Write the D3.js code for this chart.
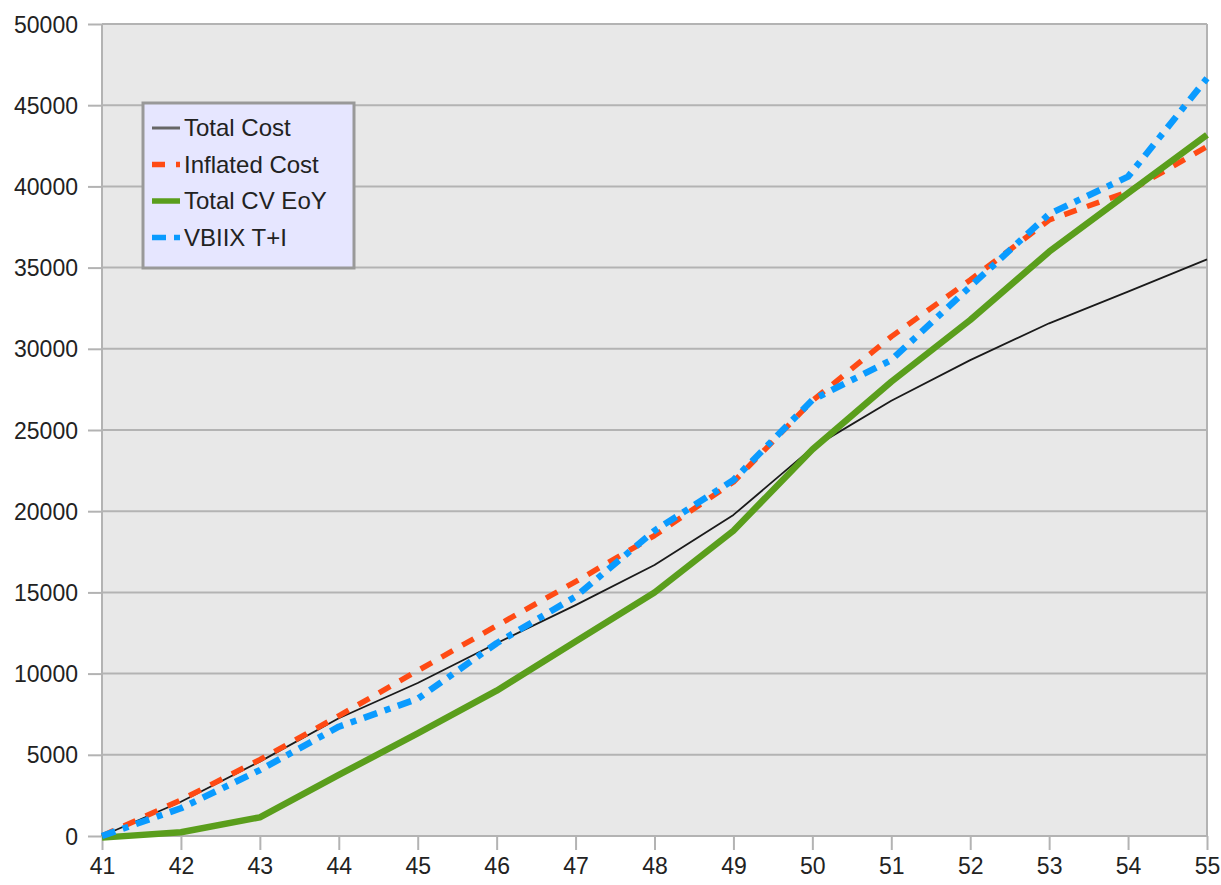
<!DOCTYPE html>
<html><head><meta charset="utf-8">
<script src="https://cdn.jsdelivr.net/npm/d3@7"></script>
<style>
html,body{margin:0;padding:0;background:#fff;}
svg{display:block;font-family:"Liberation Sans",Arial,sans-serif;}
</style></head>
<body>
<svg id="chart" width="1221" height="885"></svg>
<script>
const ages = [41,42,43,44,45,46,47,48,49,50,51,52,53,54,55];
const totalCost = [0,2110,4580,7250,9420,11870,14220,16690,19770,23900,26800,29300,31570,33520,35510];
const inflatedCost = [0,2220,4700,7400,10180,12950,15660,18500,21800,26800,30750,34240,37930,39670,42450];
const totalCV = [-100,230,1150,3760,6320,8950,11970,14990,18800,23800,27970,31770,35980,39580,43170];
const vbiix = [0,1710,4060,6730,8450,11870,14740,18800,21920,26850,29310,33830,38300,40600,46660];
const yTicks = [0,5000,10000,15000,20000,25000,30000,35000,40000,45000,50000];
const seriesNames = ["Total Cost","Inflated Cost","Total CV EoY","VBIIX T+I"];

const styles = [
  {color:"#1a1a1a", width:1.8, dash:null, legendColor:"#666", legendWidth:3},
  {color:"#ff4a14", width:5.5, dash:"13,11"},
  {color:"#5a9e1c", width:6.5, dash:null},
  {color:"#0a9bff", width:6.5, dash:"14,8,6,8"}
];
const seriesData = [totalCost, inflatedCost, totalCV, vbiix];

const svg = d3.select("#chart");
const L=102, R=1207, T=24, B=836;
const x = d3.scaleLinear().domain([41,55]).range([L,R]);
const y = d3.scaleLinear().domain([0,50000]).range([B,T]);

svg.append("rect").attr("x",L).attr("y",T).attr("width",R-L).attr("height",B-T).attr("fill","#e8e8e8");

// gridlines + y ticks
const yAxis = d3.axisLeft(y).tickValues(yTicks).tickSize(14).tickPadding(10).tickFormat(d3.format("d"));
const gy = svg.append("g").attr("transform",`translate(${L},0)`).call(yAxis);
gy.select(".domain").remove();
gy.selectAll(".tick line").attr("stroke","#b3b3b3").attr("stroke-width",2);
gy.selectAll(".tick text").attr("font-size",23).attr("fill","#222").attr("dy","0.35em");
svg.append("g").selectAll("line").data(yTicks).join("line")
  .attr("x1",L).attr("x2",R).attr("y1",d=>y(d)).attr("y2",d=>y(d))
  .attr("stroke","#b3b3b3").attr("stroke-width",2);

// x axis
const xAxis = d3.axisBottom(x).tickValues(ages).tickSize(14).tickPadding(8).tickFormat(d3.format("d"));
const gx = svg.append("g").attr("transform",`translate(0,${B})`).call(xAxis);
gx.select(".domain").remove();
gx.selectAll(".tick line").attr("stroke","#b3b3b3").attr("stroke-width",2);
gx.selectAll(".tick text").attr("font-size",23).attr("fill","#222");

// plot borders
svg.append("line").attr("x1",L).attr("x2",L).attr("y1",T).attr("y2",B).attr("stroke","#b3b3b3").attr("stroke-width",2);
svg.append("line").attr("x1",R).attr("x2",R).attr("y1",T).attr("y2",B).attr("stroke","#b3b3b3").attr("stroke-width",2);

// lines
const line = d3.line().x((d,i)=>x(ages[i])).y(d=>y(d));
seriesData.forEach((vals,k)=>{
  const s = styles[k];
  const p = svg.append("path").datum(vals).attr("d",line)
    .attr("fill","none").attr("stroke",s.color).attr("stroke-width",s.width)
    .attr("stroke-linejoin","round");
  if (s.dash) p.attr("stroke-dasharray",s.dash);
});

// legend
const lg = svg.append("g");
lg.append("rect").attr("x",143).attr("y",103).attr("width",211).attr("height",165)
  .attr("fill","#e6e6ff").attr("stroke","#999").attr("stroke-width",3);
seriesNames.forEach((name,k)=>{
  const s = styles[k];
  const cy = 128 + k*36.5;
  const l = lg.append("line").attr("x1",152).attr("x2",180).attr("y1",cy).attr("y2",cy)
    .attr("stroke",s.legendColor||s.color).attr("stroke-width",s.legendWidth||Math.min(s.width,5.5));
  if (s.dash) l.attr("stroke-dasharray",s.dash);
  lg.append("text").attr("x",184).attr("y",cy).attr("dy","0.35em")
    .attr("font-size",24).attr("fill","#222").text(name);
});
</script>
</body></html>
